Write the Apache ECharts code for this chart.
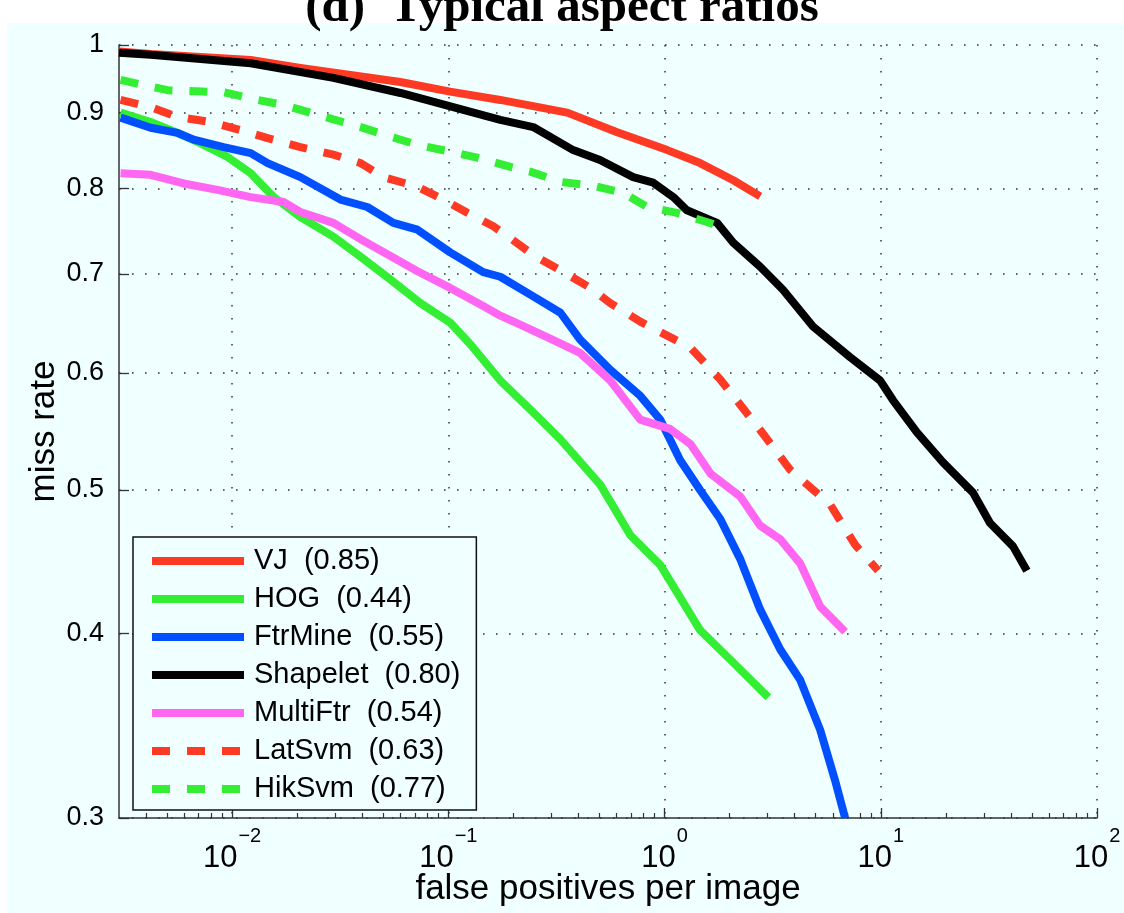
<!DOCTYPE html>
<html><head><meta charset="utf-8">
<script src="https://cdn.jsdelivr.net/npm/echarts@6/dist/echarts.min.js"></script>
<style>html,body{margin:0;padding:0;background:#fff}#c{width:1124px;height:913px}</style>
</head><body><div id="c"></div>
<script>
// ---------------- data ----------------
const seriesNames  = ['VJ', 'HOG', 'FtrMine', 'Shapelet', 'MultiFtr', 'LatSvm', 'HikSvm'];
const seriesScores = ['0.85', '0.44', '0.55', '0.80', '0.54', '0.63', '0.77'];

const vjFppi = [0.0030, 0.0042, 0.0122, 0.0207, 0.060, 0.102, 0.174, 0.355, 0.604, 1.03, 1.46, 2.08, 2.77];
const vjMiss = [0.990, 0.986, 0.977, 0.965, 0.944, 0.930, 0.918, 0.900, 0.873, 0.849, 0.832, 0.810, 0.790];

const hogFppi = [0.00305, 0.0042, 0.0056, 0.00715, 0.00953, 0.0122, 0.0156, 0.0207, 0.0294, 0.0393, 0.054, 0.0743, 0.102, 0.127, 0.174, 0.239, 0.330, 0.505, 0.695, 0.955, 1.46, 2.01, 3.02];
const hogMiss = [0.900, 0.887, 0.872, 0.858, 0.840, 0.819, 0.789, 0.765, 0.742, 0.719, 0.694, 0.669, 0.649, 0.627, 0.593, 0.567, 0.541, 0.504, 0.466, 0.445, 0.402, 0.384, 0.362];

const ftrFppi = [0.00305, 0.0042, 0.0056, 0.00664, 0.00914, 0.0122, 0.0146, 0.0207, 0.0317, 0.0422, 0.0557, 0.072, 0.102, 0.145, 0.174, 0.247, 0.330, 0.407, 0.561, 0.772, 0.955, 1.18, 1.46, 1.81, 2.24, 2.77, 3.43, 4.24, 5.25, 6.15, 6.84];
const ftrMiss = [0.893, 0.879, 0.872, 0.863, 0.853, 0.845, 0.832, 0.814, 0.786, 0.777, 0.758, 0.750, 0.724, 0.702, 0.697, 0.676, 0.659, 0.632, 0.603, 0.579, 0.558, 0.524, 0.500, 0.478, 0.449, 0.415, 0.390, 0.372, 0.344, 0.318, 0.300];

const shpFppi = [0.0030, 0.0042, 0.0122, 0.0294, 0.0601, 0.174, 0.247, 0.378, 0.503, 0.716, 0.887, 1.10, 1.27, 1.75, 2.08, 2.77, 3.53, 4.86, 7.21, 9.93, 11.4, 14.7, 19.4, 26.7, 32.0, 40.9, 47.4];
const shpMiss = [0.988, 0.985, 0.972, 0.950, 0.928, 0.890, 0.880, 0.849, 0.836, 0.814, 0.807, 0.789, 0.773, 0.758, 0.735, 0.708, 0.683, 0.645, 0.615, 0.593, 0.575, 0.547, 0.522, 0.498, 0.475, 0.458, 0.441];

const mftFppi = [0.00305, 0.0042, 0.00597, 0.00857, 0.0122, 0.0173, 0.0207, 0.0294, 0.0393, 0.054, 0.072, 0.102, 0.145, 0.174, 0.215, 0.296, 0.407, 0.561, 0.772, 1.06, 1.32, 1.63, 2.24, 2.77, 3.43, 4.24, 5.25, 6.84];
const mftMiss = [0.819, 0.817, 0.806, 0.798, 0.789, 0.783, 0.771, 0.758, 0.739, 0.720, 0.703, 0.685, 0.666, 0.656, 0.647, 0.633, 0.619, 0.593, 0.558, 0.550, 0.537, 0.513, 0.495, 0.473, 0.463, 0.446, 0.417, 0.401];

const latFppi = [0.00305, 0.0042, 0.0056, 0.00796, 0.0109, 0.0146, 0.0207, 0.0294, 0.0393, 0.0501, 0.072, 0.0949, 0.1225, 0.1615, 0.194, 0.247, 0.330, 0.454, 0.561, 0.772, 1.32, 1.81, 2.77, 3.81, 5.83, 7.62, 9.72];
const latMiss = [0.918, 0.908, 0.894, 0.887, 0.876, 0.865, 0.853, 0.843, 0.832, 0.814, 0.802, 0.786, 0.770, 0.754, 0.740, 0.721, 0.704, 0.685, 0.669, 0.650, 0.624, 0.594, 0.549, 0.516, 0.489, 0.459, 0.441];

const hikFppi = [0.00305, 0.00503, 0.00914, 0.0131, 0.0173, 0.0248, 0.0393, 0.054, 0.072, 0.102, 0.136, 0.194, 0.239, 0.330, 0.469, 0.645, 0.832, 1.14, 1.57, 1.71];
const hikMiss = [0.947, 0.932, 0.929, 0.918, 0.911, 0.897, 0.880, 0.867, 0.856, 0.847, 0.839, 0.827, 0.821, 0.808, 0.803, 0.794, 0.777, 0.770, 0.759, 0.756];

const seriesFppi = [vjFppi, hogFppi, ftrFppi, shpFppi, mftFppi, latFppi, hikFppi];
const seriesMiss = [vjMiss, hogMiss, ftrMiss, shpMiss, mftMiss, latMiss, hikMiss];

const xMin = 0.003, xMax = 100;
const yMin = 0.3, yMax = 1;
const xTickValues = [0.01, 0.1, 1, 10, 100];
const xTickExponents = ['\u22122', '\u22121', '0', '1', '2'];
const xMinorTickValues = [0.004, 0.005, 0.006, 0.007, 0.008, 0.009,
  0.02, 0.03, 0.04, 0.05, 0.06, 0.07, 0.08, 0.09,
  0.2, 0.3, 0.4, 0.5, 0.6, 0.7, 0.8, 0.9,
  2, 3, 4, 5, 6, 7, 8, 9,
  20, 30, 40, 50, 60, 70, 80, 90];
const yTickValues = [0.3, 0.4, 0.5, 0.6, 0.7, 0.8, 0.9, 1];
const yTickLabels = ['0.3', '0.4', '0.5', '0.6', '0.7', '0.8', '0.9', '1'];

const titleText = '(d)  Typical aspect ratios';
const xAxisName = 'false positives per image';
const yAxisName = 'miss rate';

// ---------------- style ----------------
const colors = ['#ff3a24', '#33ee33', '#0050ff', '#000000', '#ff66f2', '#ff3a24', '#33ee33'];
const dashed = [false, false, false, false, false, true, true];
const bg = '#f0ffff';
const FONT = '"Liberation Sans", Arial, Helvetica, sans-serif';
const L = Math.log10;

const chart = echarts.init(document.getElementById('c'), null, {renderer: 'canvas'});

const series = seriesNames.map((n, i) => ({
  name: n + '  (' + seriesScores[i] + ')',
  type: 'line',
  xAxisIndex: 0, yAxisIndex: 0,
  data: seriesFppi[i].map((f, k) => [L(f), L(seriesMiss[i][k])]),
  showSymbol: false, symbol: 'none',
  smooth: false,
  clip: true,
  silent: true,
  color: colors[i],
  lineStyle: {width: 8, color: colors[i], type: dashed[i] ? [18, 17] : 'solid', cap: 'butt', join: 'round'},
  z: 10 + i
}));

const gridBox = {left: 119, right: 27, top: 45, bottom: 95, containLabel: false, outerBoundsMode: 'none'};
const axisLineStyle = {color: '#333', width: 1.5};
const gridLine = {show: true, lineStyle: {color: '#333', width: 1.5, type: [1.6, 11.4]}};

const option = {
  backgroundColor: '#ffffff',
  animation: false,
  graphic: [
    {type: 'rect', shape: {x: 7, y: 23, width: 1117, height: 890}, style: {fill: bg}, z: -10, silent: true},
    {type: 'text', x: 562, y: 8, z: 100, style: {text: titleText, font: 'bold 49px "Liberation Serif", "Times New Roman", serif', fill: '#000', align: 'center', verticalAlign: 'middle'}}
  ],
  grid: [Object.assign({}, gridBox), Object.assign({}, gridBox)],
  legend: {
    show: true,
    orient: 'vertical',
    left: 133, top: 537,
    padding: [9, 16, 6, 15],
    itemGap: 8,
    itemWidth: 92, itemHeight: 8,
    backgroundColor: bg,
    borderColor: '#111', borderWidth: 1.5,
    itemStyle: {opacity: 0},
    lineStyle: {width: 8, cap: 'butt'},
    textStyle: {fontFamily: FONT, fontSize: 29, color: '#000', lineHeight: 30, padding: [0, 0, 0, 5]},
    selectedMode: false,
    data: series.map(s => s.name)
  },
  xAxis: [
    {
      gridIndex: 0,
      type: 'value', position: 'bottom', min: L(xMin), max: L(xMax),
      name: xAxisName, nameLocation: 'middle', nameGap: 54, nameMoveOverlap: false,
      nameTextStyle: {fontFamily: FONT, fontSize: 35, color: '#000'},
      axisLine: {show: true, onZero: false, lineStyle: axisLineStyle},
      axisTick: {show: true, inside: true, length: 10, lineStyle: {color: '#333', width: 1.3}, customValues: xTickValues.map(L)},
      splitLine: Object.assign({customValues: xTickValues.map(L)}, gridLine),
      axisLabel: {
        show: true, margin: 25, customValues: xTickValues.map(L),
        formatter: v => {
          const k = xTickValues.findIndex(t => Math.abs(L(t) - v) < 1e-6);
          return k < 0 ? '' : '{b|10}{s|' + xTickExponents[k] + '}';
        },
        rich: {
          b: {fontFamily: FONT, fontSize: 31, lineHeight: 31, color: '#000'},
          s: {fontFamily: FONT, fontSize: 20, lineHeight: 20, color: '#000', padding: [0, 0, 44, 1]}
        }
      }
    },
    {
      gridIndex: 1,
      type: 'value', position: 'bottom', min: L(xMin), max: L(xMax),
      axisLine: {show: false, onZero: false},
      axisTick: {show: true, inside: true, length: 5, lineStyle: {color: '#333', width: 1.2}, customValues: xMinorTickValues.map(L)},
      splitLine: {show: false},
      axisLabel: {show: false}
    }
  ],
  yAxis: [
    {
      gridIndex: 0,
      type: 'value', position: 'left', min: L(yMin), max: L(yMax),
      name: yAxisName, nameLocation: 'middle', nameGap: 57, nameMoveOverlap: false,
      nameTextStyle: {fontFamily: FONT, fontSize: 35, color: '#000'},
      axisLine: {show: true, onZero: false, lineStyle: axisLineStyle},
      axisTick: {show: true, inside: true, length: 10, lineStyle: {color: '#333', width: 1.3}, customValues: yTickValues.map(L)},
      splitLine: Object.assign({customValues: yTickValues.map(L)}, gridLine),
      axisLabel: {
        show: true, margin: 15, customValues: yTickValues.map(L),
        fontFamily: FONT, fontSize: 27, color: '#000',
        formatter: v => {
          const k = yTickValues.findIndex(t => Math.abs(L(t) - v) < 1e-6);
          return k < 0 ? '' : yTickLabels[k];
        }
      }
    },
    {
      gridIndex: 1,
      type: 'value', position: 'left', min: L(yMin), max: L(yMax),
      axisLine: {show: false, onZero: false}, axisTick: {show: false}, axisLabel: {show: false}, splitLine: {show: false}
    }
  ],
  series: series
};
chart.setOption(option);
</script>
</body></html>
